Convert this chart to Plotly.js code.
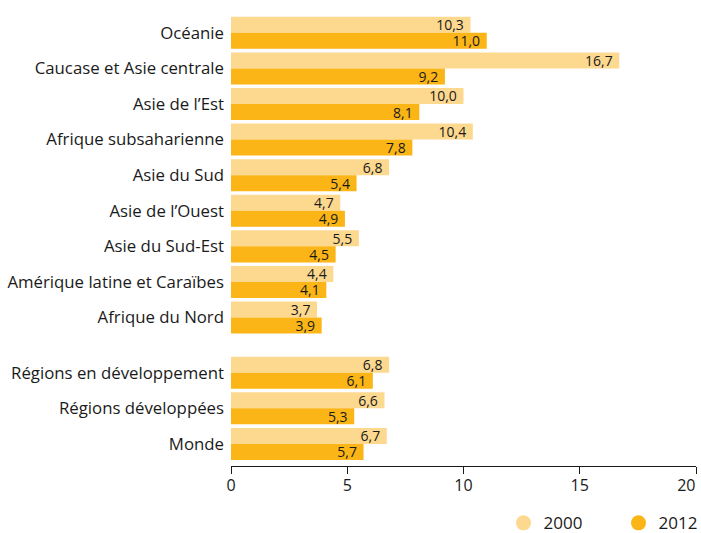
<!DOCTYPE html>
<html><head><meta charset="utf-8">
<script src="https://cdn.plot.ly/plotly-3.0.1.min.js"></script>
<style>html,body{margin:0;padding:0;background:#fff}</style>
</head><body>
<div id="chart" style="width:701px;height:533px"></div>
<script>
const categories = ["Océanie","Caucase et Asie centrale","Asie de l’Est","Afrique subsaharienne","Asie du Sud","Asie de l’Ouest","Asie du Sud-Est","Amérique latine et Caraïbes","Afrique du Nord","Régions en développement","Régions développées","Monde"];
const values2000 = [10.3,16.7,10.0,10.4,6.8,4.7,5.5,4.4,3.7,6.8,6.6,6.7];
const values2012 = [11.0,9.2,8.1,7.8,5.4,4.9,4.5,4.1,3.9,6.1,5.3,5.7];
const seriesNames = ["2000","2012"];
const xTicks = [0,5,10,15,20];
const xTickText = ["0","5","10","15","20"];

const colors = ["#FDD88F","#FBB517"];
const fontFam = "'Open Sans', 'Noto Sans', sans-serif";
// numeric positions with an extra gap before the aggregate group
const ypos = categories.map((c,i)=> i + (i>=9 ? 0.55 : 0));
const fmt = v => v.toFixed(1).replace('.',',') + '\u00a0';
const lastTick = xTicks.length - 1;

function barTrace(vals, name, color){
  return {type:'bar', orientation:'h', x:vals, y:ypos, name:name,
    marker:{color:color}, text:vals.map(fmt), textposition:'inside',
    insidetextanchor:'end', constraintext:'none',
    textfont:{family:fontFam,size:14,color:'#1a1a1a'},
    showlegend:false, hoverinfo:'x', cliponaxis:false};
}
const traces = [
  barTrace(values2000, seriesNames[0], colors[0]),
  barTrace(values2012, seriesNames[1], colors[1]),
  {type:'scatter', mode:'markers', x:[null], y:[null], name:seriesNames[0], marker:{symbol:'circle',size:15,color:colors[0]}, showlegend:true},
  {type:'scatter', mode:'markers', x:[null], y:[null], name:seriesNames[1], marker:{symbol:'circle',size:15,color:colors[1]}, showlegend:true},
  {type:'scatter', mode:'markers', x:[null], y:[null], xaxis:'x2', showlegend:false, hoverinfo:'skip'}
];
const axisCommon = {range:[xTicks[0], xTicks[lastTick]], showgrid:false, zeroline:false,
  ticks:'outside', ticklen:7, tickcolor:'#1a1a1a', tickfont:{size:16}};
const layout = {
  width:701, height:533,
  margin:{l:231, r:5, t:15, b:66.5, autoexpand:false},
  barmode:'group', bargap:0.1, bargroupgap:0,
  uniformtext:{mode:'show', minsize:14},
  paper_bgcolor:'#fff', plot_bgcolor:'#fff',
  font:{family:fontFam, size:17, color:'#1a1a1a'},
  xaxis:Object.assign({}, axisCommon, {tickvals:xTicks,
    ticktext:xTickText.map((t,i)=> i===lastTick ? '' : t),
    showline:true, linecolor:'#1a1a1a', linewidth:1, ticklabelstandoff:-2}),
  xaxis2:Object.assign({}, axisCommon, {overlaying:'x', anchor:'y', side:'bottom',
    tickvals:[xTicks[lastTick]], ticktext:[xTickText[lastTick]],
    ticklabelposition:'outside left', showline:false, ticklabelstandoff:5}),
  yaxis:{range:[ypos[ypos.length-1]+0.62,-0.5], tickvals:ypos, ticktext:categories, showgrid:false,
    zeroline:false, showline:false, ticks:'', ticklabelstandoff:6, tickfont:{size:16.8}},
  legend:{orientation:'h', x:0.586, xanchor:'left', y:-0.127, yanchor:'middle', font:{size:17},
    itemwidth:30, entrywidth:70, traceorder:'normal'},
  showlegend:true
};
Plotly.newPlot('chart', traces, layout, {displayModeBar:false, staticPlot:true});
</script>
</body></html>
